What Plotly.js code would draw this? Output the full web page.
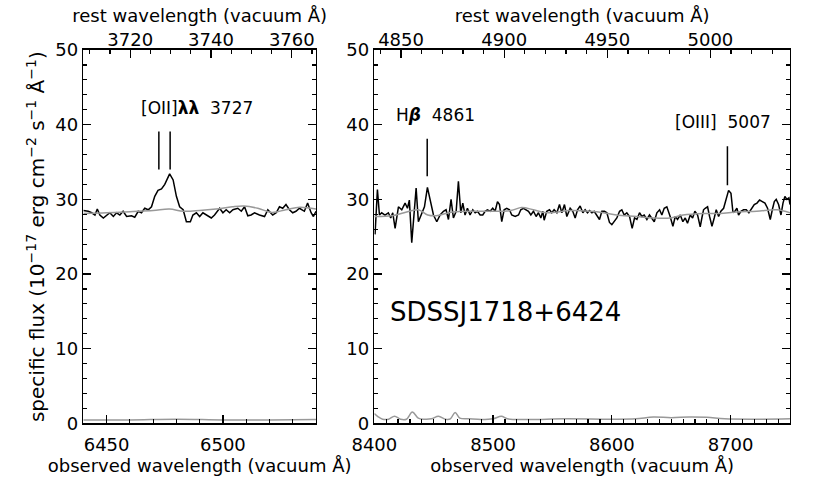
<!DOCTYPE html>
<html>
<head>
<meta charset="utf-8">
<script src="https://cdn.plot.ly/plotly-3.0.1.min.js"></script>
<style>
  html, body { margin: 0; padding: 0; background: white; }
  #plot { width: 830px; height: 499px; }
</style>
</head>
<body>
<div id="plot"></div>
<script>
const z = 0.7366;
const leftRange = [6440, 6540];
const rightRange = [8400, 8750];

// left panel: observed spectrum around [OII]
const leftWave = [6440.0, 6442.1, 6443.6, 6445.0, 6446.0, 6447.1, 6448.6, 6450.0, 6451.4, 6452.9,
  6454.3, 6455.7, 6457.1, 6458.6, 6460.7, 6462.1, 6463.6, 6465.0, 6466.4, 6467.9,
  6469.3, 6470.7, 6472.1, 6473.6, 6475.0, 6477.1, 6478.6, 6480.0, 6481.4, 6482.9,
  6484.3, 6486.0, 6487.1, 6488.6, 6490.0, 6491.4, 6492.9, 6495.0, 6496.4, 6498.6,
  6500.0, 6501.4, 6502.9, 6504.3, 6506.4, 6507.9, 6509.3, 6510.7, 6512.1, 6513.6,
  6515.7, 6517.9, 6519.3, 6521.4, 6522.9, 6524.3, 6525.7, 6527.1, 6528.6, 6530.0,
  6531.4, 6532.9, 6535.0, 6536.4, 6537.9, 6538.9, 6540.0];
const leftFlux = [28.5, 28.4, 28.2, 27.9, 28.7, 27.9, 27.5, 27.9, 28.2, 27.7,
  28.2, 27.9, 28.4, 27.7, 27.8, 27.6, 28.4, 28.2, 28.8, 28.6,
  29.0, 30.4, 31.2, 31.4, 32.0, 33.4, 32.6, 30.4, 29.0, 28.6,
  27.0, 27.0, 27.9, 28.2, 27.7, 28.2, 27.9, 27.5, 27.9, 28.8,
  28.2, 28.6, 28.2, 28.6, 28.8, 28.4, 29.0, 27.8, 27.9, 28.2,
  27.9, 27.7, 28.6, 27.9, 28.2, 29.0, 28.8, 29.3, 28.6, 28.2,
  28.4, 28.8, 28.4, 29.5, 28.2, 27.7, 28.4];
const leftModelWave = [6440, 6450, 6460, 6470, 6477, 6483, 6490, 6497, 6504, 6509, 6515, 6521, 6527, 6533, 6540];
const leftModel = [28.1, 28.2, 28.35, 28.5, 28.7, 28.4, 28.5, 28.7, 29.0, 29.1, 28.8, 28.25, 28.6, 28.95, 28.7];
const leftErrWave = [6440, 6460, 6480, 6500, 6520, 6540];
const leftErr = [0.45, 0.45, 0.55, 0.45, 0.45, 0.5];

// right panel: observed spectrum around Hbeta and [OIII]
const rightWave = [8400.6, 8402.6, 8404.3, 8406.2, 8409.0, 8411.8, 8413.8, 8415.5, 8417.5, 8420.3,
  8423.1, 8425.9, 8427.9, 8429.5, 8431.5, 8433.5, 8435.2, 8437.1, 8439.9, 8442.2,
  8444.7, 8447.0, 8449.8, 8452.6, 8455.4, 8458.2, 8460.4, 8462.4, 8464.6, 8466.6,
  8468.9, 8470.8, 8472.8, 8474.5, 8476.4, 8478.4, 8480.6, 8482.9, 8484.9, 8486.8,
  8489.1, 8491.3, 8493.3, 8495.2, 8497.5, 8499.7, 8501.7, 8503.7, 8505.4, 8507.3,
  8509.3, 8511.5, 8513.8, 8515.7, 8518.6, 8521.4, 8523.3, 8525.6, 8527.8, 8529.8,
  8531.8, 8534.0, 8536.2, 8538.2, 8540.2, 8541.9, 8543.0, 8545.2, 8547.5, 8549.4,
  8551.4, 8553.7, 8555.9, 8557.9, 8560.1, 8562.1, 8564.9, 8567.1, 8569.1, 8571.1,
  8573.3, 8575.6, 8577.5, 8579.5, 8581.2, 8583.2, 8585.1, 8587.4, 8589.6, 8591.6,
  8593.8, 8595.8, 8598.0, 8600.0, 8602.0, 8604.2, 8606.5, 8608.4, 8610.4, 8612.6,
  8614.9, 8617.1, 8619.1, 8621.1, 8623.3, 8625.3, 8627.2, 8629.5, 8631.7, 8633.7,
  8635.7, 8637.9, 8640.2, 8642.1, 8644.1, 8646.3, 8647.7, 8649.1, 8651.4, 8653.4,
  8655.3, 8657.6, 8659.8, 8661.8, 8663.7, 8666.0, 8668.0, 8669.9, 8672.2, 8674.4,
  8675.8, 8677.2, 8678.6, 8680.6, 8682.3, 8684.3, 8686.2, 8687.9, 8689.9, 8691.8,
  8694.1, 8696.3, 8698.3, 8700.3, 8702.0, 8703.6, 8705.3, 8706.7, 8708.7, 8710.9,
  8713.2, 8715.4, 8717.7, 8719.9, 8722.2, 8724.4, 8726.7, 8728.9, 8731.1, 8733.4,
  8735.1, 8736.8, 8738.4, 8740.4, 8742.4, 8744.1, 8745.7, 8747.4, 8749.1, 8750.0];
const rightFlux = [25.3, 31.3, 27.9, 28.2, 27.9, 28.2, 27.5, 28.2, 26.1, 29.0,
  28.6, 29.5, 28.8, 29.9, 24.2, 27.7, 31.5, 27.0, 28.2, 29.0,
  31.6, 29.9, 27.9, 27.0, 27.9, 28.4, 28.6, 27.3, 30.0, 27.5,
  28.4, 32.4, 28.2, 29.5, 27.9, 28.8, 27.9, 28.6, 28.2, 28.4,
  27.9, 27.9, 28.4, 28.6, 28.4, 28.8, 28.4, 29.7, 29.3, 27.0,
  28.6, 28.8, 28.6, 27.9, 27.7, 27.9, 28.6, 28.8, 28.6, 28.4,
  27.9, 28.4, 27.7, 28.2, 27.5, 28.4, 27.2, 28.4, 28.6, 28.2,
  28.6, 28.2, 29.3, 28.2, 29.3, 27.7, 28.8, 28.4, 27.5, 28.6,
  29.1, 28.2, 28.6, 28.2, 28.5, 28.2, 28.4, 27.9, 27.3, 28.4,
  28.4, 28.2, 26.9, 26.6, 27.0, 27.5, 28.4, 28.6, 27.9, 28.2,
  27.7, 26.1, 27.5, 27.3, 28.2, 27.7, 27.9, 27.3, 27.9, 27.5,
  27.0, 28.2, 28.6, 27.9, 28.8, 29.0, 28.4, 27.7, 26.4, 27.7,
  27.3, 27.9, 27.0, 27.5, 26.8, 27.9, 27.5, 28.4, 27.9, 26.3,
  27.5, 28.6, 28.8, 29.0, 27.7, 26.4, 27.5, 28.6, 27.7, 28.4,
  28.8, 30.0, 31.2, 30.8, 28.2, 28.4, 28.8, 27.9, 28.4, 28.6,
  28.6, 28.2, 28.8, 29.3, 29.5, 29.9, 29.7, 29.5, 28.8, 27.3,
  28.6, 29.7, 30.0, 29.3, 27.9, 29.5, 30.4, 30.0, 30.2, 29.3];
const rightModelWave = [8400, 8415, 8425, 8437, 8445, 8452, 8466, 8490, 8515, 8524, 8534, 8545, 8565,
  8582, 8593, 8604, 8621, 8635, 8649, 8660, 8677, 8691, 8705, 8722, 8739, 8750];
const rightModel = [27.7, 27.8, 28.2, 28.6, 27.9, 27.8, 28.3, 28.4, 28.5, 28.9, 28.6, 28.2, 28.5,
  28.4, 28.2, 27.9, 27.7, 27.5, 27.5, 27.9, 28.1, 28.1, 28.3, 28.4, 28.6, 28.2];
const rightErrWave = [8400, 8403, 8407, 8412, 8417, 8422, 8427, 8432, 8437, 8442, 8448, 8454, 8460, 8464, 8468, 8472,
  8480, 8490, 8500, 8507, 8512, 8530, 8560, 8600, 8620, 8635, 8650, 8665, 8680, 8695, 8720, 8750];
const rightErr = [1.3, 0.9, 0.55, 0.55, 0.95, 0.55, 0.55, 1.5, 0.7, 0.55, 0.6, 0.95, 0.55, 0.6, 1.45, 0.7,
  0.6, 0.5, 0.6, 0.95, 0.6, 0.5, 0.6, 0.55, 0.6, 0.85, 0.75, 0.85, 0.8, 0.6, 0.55, 0.6];

// emission line markers (rest vacuum wavelengths) and their y extent
const leftLines = [3727.09, 3729.88];
const leftLineY = [34.0, 39.1];
const rightLines = [4862.68, 5008.24];
const rightLineY = [[33.1, 38.1], [31.9, 37.1]];

const font = 'DejaVu Sans';
const black = '#000000';
const gray = '#999999';

function markerTrace(waves, ys, xa, ya) {
    let x = [], y = [];
    waves.forEach((w, i) => {
        const yy = Array.isArray(ys[0]) ? ys[i] : ys;
        x.push(w, w, null);
        y.push(yy[0], yy[1], null);
    });
    return {x, y, xaxis: xa, yaxis: ya, mode: 'lines', line: {color: black, width: 1.5},
        hoverinfo: 'skip', showlegend: false};
}

const traces = [
    {x: leftWave, y: leftFlux, xaxis: 'x', yaxis: 'y', mode: 'lines', line: {color: black, width: 1.5}},
    {x: leftModelWave, y: leftModel, xaxis: 'x', yaxis: 'y', mode: 'lines', line: {color: gray, width: 1.5, shape: 'spline'}},
    {x: leftErrWave, y: leftErr, xaxis: 'x', yaxis: 'y', mode: 'lines', line: {color: gray, width: 1.5, shape: 'spline'}},
    {x: rightWave, y: rightFlux, xaxis: 'x2', yaxis: 'y2', mode: 'lines', line: {color: black, width: 1.5}},
    {x: rightModelWave, y: rightModel, xaxis: 'x2', yaxis: 'y2', mode: 'lines', line: {color: gray, width: 1.5, shape: 'spline'}},
    {x: rightErrWave, y: rightErr, xaxis: 'x2', yaxis: 'y2', mode: 'lines', line: {color: gray, width: 1.5, shape: 'spline'}},
    markerTrace(leftLines, leftLineY, 'x3', 'y'),
    markerTrace(rightLines, rightLineY, 'x4', 'y2')
];
traces.forEach(t => { t.showlegend = false; });

const tickFont = {family: font, size: 18, color: black};
const titleFont = {family: font, size: 18, color: black};

function xAxis(domain, range, dtick, minor, side, title) {
    return {
        domain, range, dtick, side,
        ticks: 'inside', ticklen: 8, tickwidth: 1.2, tickcolor: black,
        minor: {dtick: minor, ticks: 'inside', ticklen: 4, tickwidth: 1.2, tickcolor: black},
        showline: true, linecolor: black, linewidth: 1.5,
        showgrid: false, zeroline: false,
        tickfont: tickFont, ticklabelstandoff: side === 'top' ? -5 : 5,
        title: {text: title, font: titleFont, standoff: side === 'top' ? 2 : 4}
    };
}

function yAxis(anchor, title) {
    return {
        domain: [0.1517, 0.8998], range: [0, 50], anchor, dtick: 10,
        ticks: 'inside', ticklen: 8, tickwidth: 1.2, tickcolor: black,
        minor: {dtick: 2, ticks: 'inside', ticklen: 4, tickwidth: 1.2, tickcolor: black},
        showline: true, mirror: 'ticks', linecolor: black, linewidth: 1.5,
        showgrid: false, zeroline: false,
        tickfont: tickFont,
        title: {text: title, font: {family: font, size: 20, color: black}, standoff: 5}
    };
}

const leftDom = [0.1004, 0.3807];
const rightDom = [0.451, 0.9518];
const restTitle = 'rest wavelength (vacuum Å)';
const obsTitle = 'observed wavelength (vacuum Å)';

const layout = {
    width: 830, height: 499,
    margin: {l: 0, r: 0, t: 0, b: 0},
    paper_bgcolor: 'white', plot_bgcolor: 'white',
    font: {family: font, color: black},
    showlegend: false,
    xaxis: Object.assign(xAxis(leftDom, leftRange, 50, 10, 'bottom', obsTitle), {anchor: 'y'}),
    xaxis2: Object.assign(xAxis(rightDom, rightRange, 100, 10, 'bottom', obsTitle), {anchor: 'y2'}),
    xaxis3: Object.assign(xAxis(leftDom, leftRange.map(w => w / (1 + z)), 20, 5, 'top', restTitle),
        {anchor: 'y', overlaying: 'x'}),
    xaxis4: Object.assign(xAxis(rightDom, rightRange.map(w => w / (1 + z)), 50, 10, 'top', restTitle),
        {anchor: 'y2', overlaying: 'x2'}),
    yaxis: yAxis('x', 'specific flux (10<sup>−17</sup> erg cm<sup>−2</sup> s<sup>−1</sup> Å<sup>−1</sup>)'),
    yaxis2: yAxis('x2', ''),
    annotations: [
        {text: '[OII]<b>λλ</b>  3727', xref: 'paper', yref: 'paper', x: 0.2373, y: 0.7836,
         xanchor: 'center', yanchor: 'middle',
         showarrow: false, font: {family: font, size: 17, color: black}},
        {text: 'H<b><i>β</i></b>  4861', xref: 'paper', yref: 'paper', x: 0.5253, y: 0.7695,
         xanchor: 'center', yanchor: 'middle',
         showarrow: false, font: {family: font, size: 17, color: black}},
        {text: '[OIII]  5007', xref: 'paper', yref: 'paper', x: 0.8711, y: 0.7555,
         xanchor: 'center', yanchor: 'middle',
         showarrow: false, font: {family: font, size: 17, color: black}},
        {text: 'SDSSJ1718+6424', xref: 'paper', yref: 'paper', x: 0.4675, y: 0.3747,
         xanchor: 'left', yanchor: 'middle',
         showarrow: false, font: {family: font, size: 26, color: black}}
    ]
};

Plotly.newPlot('plot', traces, layout, {staticPlot: true});
</script>
</body>
</html>
